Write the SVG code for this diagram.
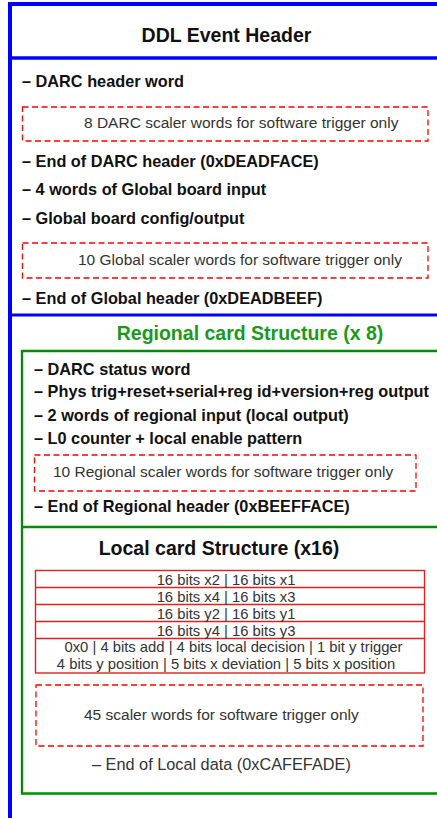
<svg xmlns="http://www.w3.org/2000/svg" width="437" height="818" viewBox="0 0 437 818">
<style>
.blue{stroke:#0000ff;fill:none}
.green{stroke:#008c00;fill:none;stroke-width:2.3}
.dash{stroke:#ff0000;fill:none;stroke-width:1.3;stroke-dasharray:6 3.5}
.tbl{stroke:#e02020;fill:none;stroke-width:1.4}
.item{font-family:"Liberation Sans",Arial,sans-serif;font-weight:bold;font-size:16.3px;fill:#111}
.note{font-family:"Liberation Sans",Arial,sans-serif;font-size:15.5px;fill:#333}
.row{font-family:"Liberation Sans",Arial,sans-serif;font-size:14.8px;fill:#333;text-anchor:middle}
.title{font-family:"Liberation Sans",Arial,sans-serif;font-weight:bold;font-size:19.5px}
</style>
<g id="ddl-frame">
<path class="blue" stroke-width="4" d="M437 4 H10 V818"/>
<path class="blue" stroke-width="3.5" d="M10 58 H437"/>
<path class="blue" stroke-width="3" d="M10 315 H437"/>
</g>
<g id="ddl-header">
<text class="title" x="226.5" y="42" text-anchor="middle" fill="#111">DDL Event Header</text>
<text class="item" x="22" y="87">– DARC header word</text>
<rect class="dash" x="22.5" y="107" width="405.5" height="34"/>
<text class="note" x="84" y="128">8 DARC scaler words for software trigger only</text>
<text class="item" x="22" y="167">– End of DARC header (0xDEADFACE)</text>
<text class="item" x="22" y="195">– 4 words of Global board input</text>
<text class="item" x="22" y="224">– Global board config/output</text>
<rect class="dash" x="22.5" y="243" width="405.5" height="35"/>
<text class="note" x="78" y="265">10 Global scaler words for software trigger only</text>
<text class="item" x="22" y="304">– End of Global header (0xDEADBEEF)</text>
</g>
<g id="regional-card">
<text class="title" x="250" y="340" text-anchor="middle" fill="#1a9a1a">Regional card Structure (x 8)</text>
<path class="green" d="M437 351 H22 V793.5 H437"/>
<path class="green" d="M22 527 H437"/>
<text class="item" x="34" y="375">– DARC status word</text>
<text class="item" x="34" y="397">– Phys trig+reset+serial+reg id+version+reg output</text>
<text class="item" x="34" y="421">– 2 words of regional input (local output)</text>
<text class="item" x="34" y="444">– L0 counter + local enable pattern</text>
<rect class="dash" x="34.5" y="455" width="381.5" height="36"/>
<text class="note" x="53" y="477">10 Regional scaler words for software trigger only</text>
<text class="item" x="34" y="512">– End of Regional header (0xBEEFFACE)</text>
</g>
<g id="local-card">
<text class="title" x="219" y="555" text-anchor="middle" fill="#111">Local card Structure (x16)</text>
<rect class="tbl" x="35.5" y="570.5" width="389" height="102.5"/>
<path class="tbl" d="M35.5 587.5 H424.5 M35.5 604.5 H424.5 M35.5 621.5 H424.5 M35.5 638.5 H424.5"/>
<text class="row" x="226" y="585">16 bits x2 | 16 bits x1</text>
<text class="row" x="226" y="602">16 bits x4 | 16 bits x3</text>
<text class="row" x="226" y="619">16 bits y2 | 16 bits y1</text>
<text class="row" x="226" y="635.5">16 bits y4 | 16 bits y3</text>
<text class="row" x="233.5" y="652">0x0 | 4 bits add | 4 bits local decision | 1 bit y trigger</text>
<text class="row" x="226" y="669">4 bits y position | 5 bits x deviation | 5 bits x position</text>
<rect class="dash" x="36" y="685" width="387" height="61"/>
<text class="note" x="84" y="720">45 scaler words for software trigger only</text>
<text class="note" x="92" y="770" style="font-size:16.3px">– End of Local data (0xCAFEFADE)</text>
</g>
<g id="connectors"/>
</svg>
